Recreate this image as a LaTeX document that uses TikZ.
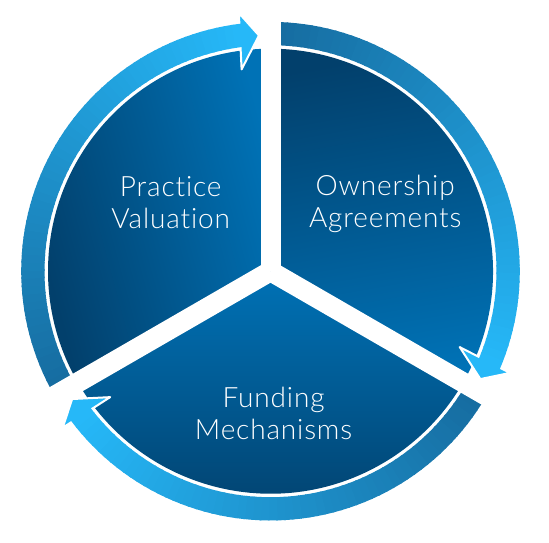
\documentclass[tikz,border=0pt]{standalone}
\usepackage{fontspec}
\setmainfont{Lato}[UprightFont=* Light, LetterSpace=3, Ligatures={NoCommon}]
\usetikzlibrary{calc}
\definecolor{secdark}{RGB}{2,64,108}
\definecolor{seclight}{RGB}{0,114,182}
\definecolor{ringdark}{RGB}{22,108,160}
\definecolor{ringbright}{RGB}{38,184,248}
\newcommand\mysector[3]{%
  \shade[left color=secdark, right color=seclight, shading angle=#3]
    (C) -- ($(C)+(#1:222.5)$) arc[start angle=#1, end angle=#2, radius=222.5] -- cycle;}
\newcommand\myringbody[2]{%
  \pgfmathsetmacro\bodyend{#2+2.8+4.3}%
  \foreach \i in {0,...,59}{%
    \pgfmathsetmacro\aa{#1-(#1-\bodyend)*\i/60}%
    \pgfmathsetmacro\bb{#1-(#1-\bodyend)*(\i+1)/60-0.4}%
    \pgfmathtruncatemacro\pc{100*\i/59}%
    \fill[ringbright!\pc!ringdark] ($(C)+(\aa:226)$) arc[start angle=\aa,end angle=\bb,radius=226]
      -- ($(C)+(\bb:249.3)$) arc[start angle=\bb,end angle=\aa,radius=249.3] -- cycle;
  }}
\newcommand\myhead[1]{%
  \pgfmathsetmacro\tipang{#1+2.8}%
  \filldraw[headstyle] ($(C)+(\tipang:259.5)+(\tipang+90:19)$) -- ($(C)+(\tipang:236)$)
    -- ($(C)+(\tipang:203)+(\tipang+90:19)$) -- cycle;}
\begin{document}
\begin{tikzpicture}[x=1pt,y=1pt,
  lbl/.style={text=white, font=\fontsize{28}{32.3}\selectfont, align=center, inner sep=0pt},
  gapline/.style={white, line width=20pt},
  headstyle/.style={fill=ringbright, draw=white, line width=2pt, line join=round}]
\useasboundingbox (0,0) rectangle (549,542);
\coordinate (C) at (270.5,270.8);
% three sectors
\mysector{90}{210}{105}
\mysector{-30}{90}{10}
\mysector{210}{330}{180}
% arrow heads (drawn first, bodies cover their back edges)
\myhead{90}
\myhead{-30}
\myhead{-150}
% arrow bodies with gradient from tail to head
\myringbody{210}{90}
\myringbody{90}{-30}
\myringbody{-30}{-150}
% gaps
\foreach \g in {90,210,330}{\draw[gapline] (C) -- ($(C)+(\g:266)$);}
% labels
\node[lbl, anchor=base] (pv) at (170.7,313.7) {Practice\\Valuation};
\node[lbl, anchor=base] (oa) at (385.2,314.4) {Ownership\\Agreements};
\node[lbl, anchor=base] (fm) at (273.6,102.6) {Funding\\Mechanisms};
\end{tikzpicture}
\end{document}
